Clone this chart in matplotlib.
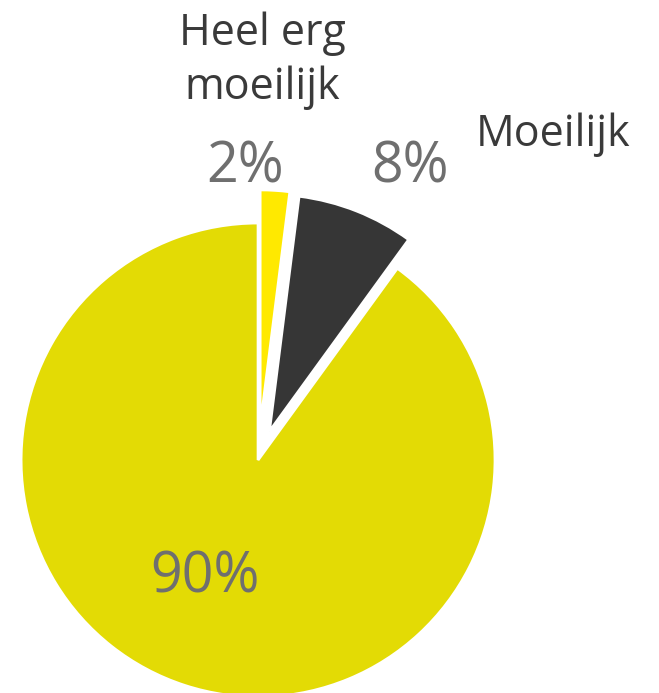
import matplotlib.pyplot as plt

# Data
categories = ["Heel erg\nmoeilijk", "Moeilijk", "Niet moeilijk"]
values = [2, 8, 90]
pct_labels = ["2%", "8%", "90%"]
colors = ["#FFE900", "#363636", "#E3DB05"]
explode = [0.14, 0.13, 0.0]

fig = plt.figure(figsize=(6.59, 6.93), dpi=100)
ax = fig.add_axes([0, 0, 1, 1])

ax.pie(values, colors=colors, explode=explode, startangle=90, counterclock=False,
       wedgeprops=dict(edgecolor="white", linewidth=2))

# view window so the pie sits like the original (bottom clipped)
ax.set_aspect("auto")
ax.set_xlim(-1.089, 1.692)
ax.set_ylim(-0.983, 1.941)
ax.axis("off")

font = "Open Sans"
label_color = "#3a3a3a"
pct_color = "#6f6f6f"

# category labels
ax.text(0.017, 1.685, categories[0], ha="center", va="center", fontsize=31,
        color=label_color, family=font, linespacing=1.3)
ax.text(1.245, 1.371, categories[1], ha="center", va="center", fontsize=31,
        color=label_color, family=font)

# percentage labels
pct_pos = [(-0.055, 1.232), (0.641, 1.232), (-0.224, -0.498)]
for (x, y), t in zip(pct_pos, pct_labels):
    ax.text(x, y, t, ha="center", va="center", fontsize=40, color=pct_color,
            family=font)

fig.savefig("out.png", dpi=100)
